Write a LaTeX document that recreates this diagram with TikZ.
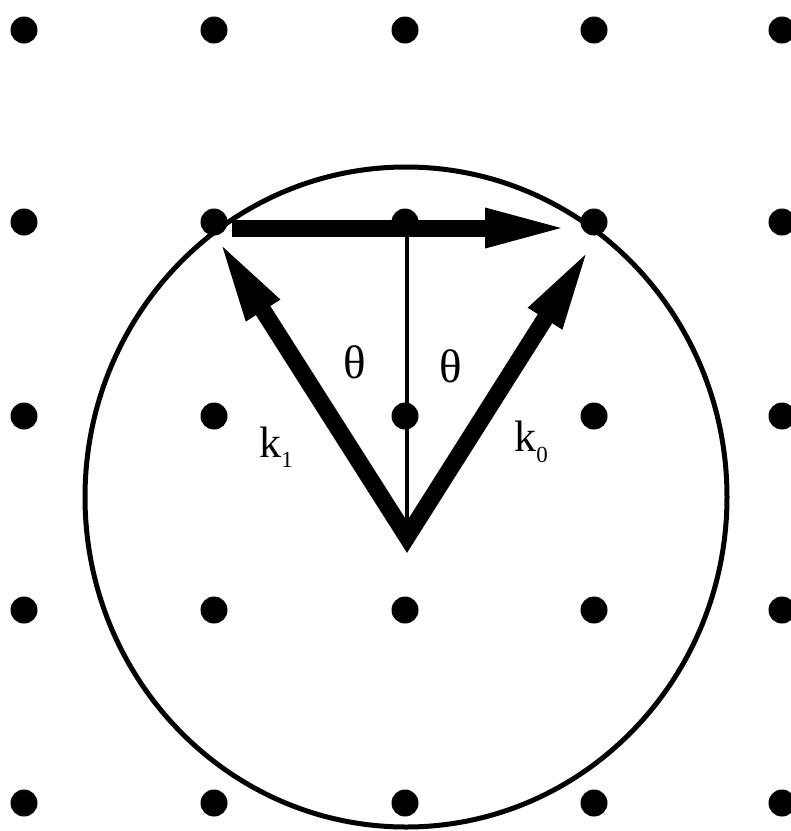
\documentclass[tikz,border=0pt]{standalone}
\usepackage{fontspec}
\setmainfont{Liberation Serif}
\usetikzlibrary{arrows.meta}
\begin{document}
\begin{tikzpicture}[x=1pt,y=-1pt,
  dot/.style={circle,fill=black,inner sep=0pt,minimum size=27pt},
  bigtip/.tip={Triangle[length=86pt,width=35pt]},
  bigarrow/.style={line width=17pt,line join=miter},
  lbl/.style={font=\fontsize{44}{44}\selectfont,inner sep=0pt},
  thl/.style={font=\fontsize{47}{47}\selectfont,inner sep=0pt},
  sub/.style={font=\fontsize{23}{23}\selectfont,inner sep=0pt}]
\useasboundingbox (0,0) rectangle (791,831);
% Ewald circle
\draw[line width=5pt] (406,497) ellipse [x radius=321, y radius=330];
% lattice dots
\foreach \i/\x in {0/24,1/214,2/405,3/594,4/782}
  \foreach \j/\y in {0/30,1/222,2/416,3/610,4/803}
    \node[dot] (d\i\j) at (\x,\y) {};
% key points
\coordinate (O) at (407,537);
\coordinate (t1) at (217,238);
\coordinate (t0) at (591,246);
\coordinate (hs) at (232,228);
\coordinate (he) at (571,228);
\coordinate (vt) at (407,222);
% vertical thin line
\draw[line width=3.5pt] (vt) -- (O);
% incident and diffracted wave vectors
\draw[bigarrow,{bigtip}-{bigtip}] (t1) -- (O) -- (t0);
% scattering vector
\draw[bigarrow,-{bigtip},line cap=butt] (hs) -- (he);
% labels
\node[thl] (th1) at (355,362) {θ};
\node[thl] (th2) at (451,366) {θ};
\node[lbl] (k1) at (270,442) {k};
\node[sub,anchor=west] (s1) at (k1.east |- 0,460) {1};
\node[lbl] (k0) at (525,436) {k};
\node[sub,anchor=west] (s0) at (k0.east |- 0,455) {0};
\end{tikzpicture}
\end{document}
